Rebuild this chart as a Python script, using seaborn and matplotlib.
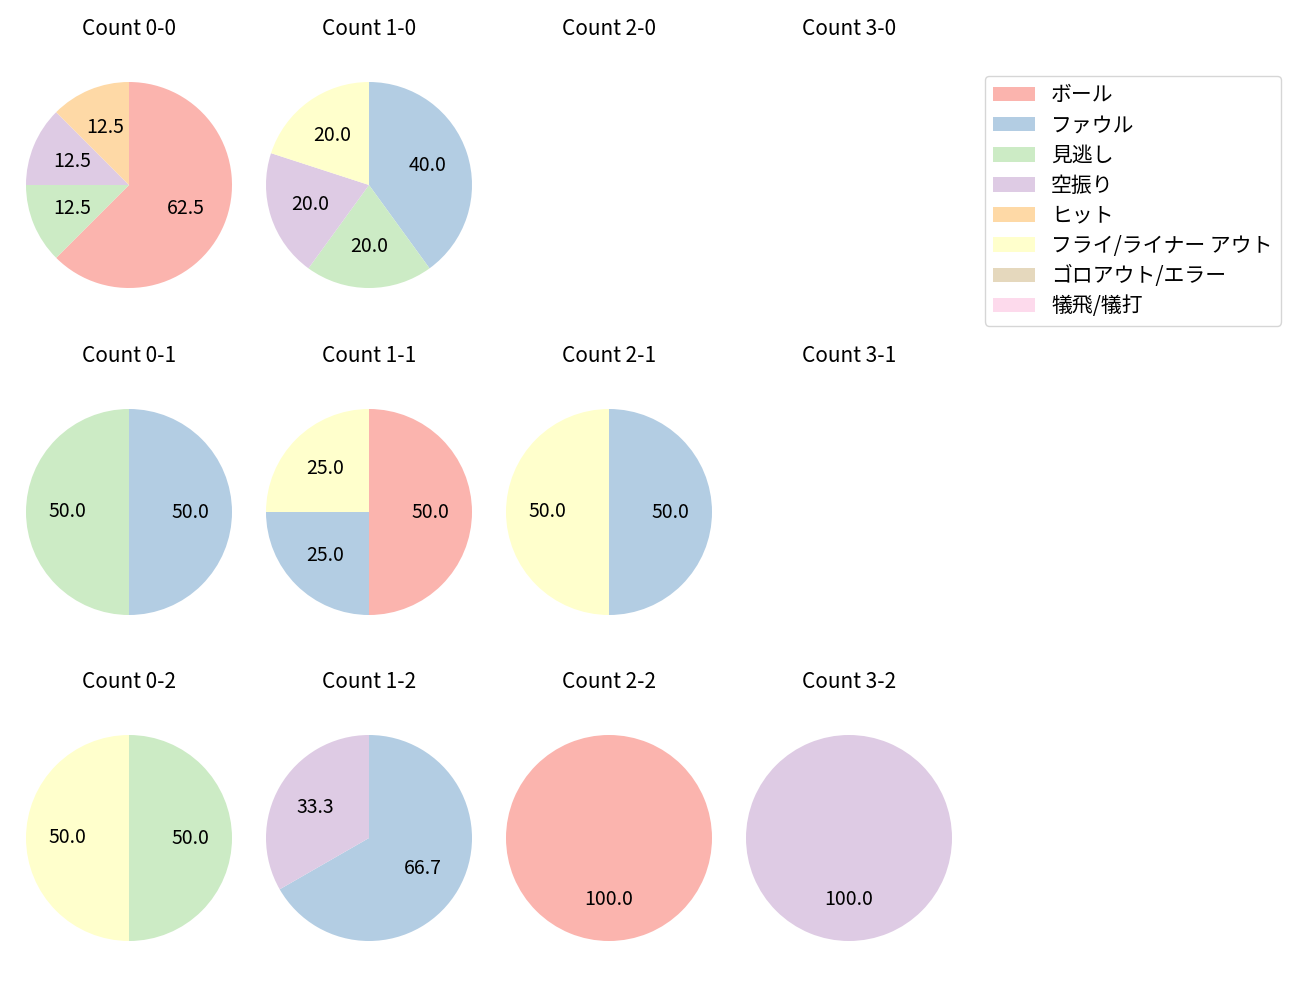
import matplotlib
matplotlib.use("Agg")
import matplotlib.pyplot as plt
import seaborn as sns
from matplotlib.patches import Patch

sns.set_theme(style="white")
plt.rcParams['font.family'] = ['Noto Sans CJK JP', 'DejaVu Sans']
plt.rcParams['text.color'] = 'black'

categories = ["ボール", "ファウル", "見逃し", "空振り", "ヒット",
              "フライ/ライナー アウト", "ゴロアウト/エラー", "犠飛/犠打"]

count_labels = ["0-0", "1-0", "2-0", "3-0",
                "0-1", "1-1", "2-1", "3-1",
                "0-2", "1-2", "2-2", "3-2"]

c_0_0 = [62.5, 0, 12.5, 12.5, 12.5, 0, 0, 0]
c_1_0 = [0, 40.0, 20.0, 20.0, 0, 20.0, 0, 0]
c_2_0 = [0, 0, 0, 0, 0, 0, 0, 0]
c_3_0 = [0, 0, 0, 0, 0, 0, 0, 0]
c_0_1 = [0, 50.0, 50.0, 0, 0, 0, 0, 0]
c_1_1 = [50.0, 25.0, 0, 0, 0, 25.0, 0, 0]
c_2_1 = [0, 50.0, 0, 0, 0, 50.0, 0, 0]
c_3_1 = [0, 0, 0, 0, 0, 0, 0, 0]
c_0_2 = [0, 0, 50.0, 0, 0, 50.0, 0, 0]
c_1_2 = [0, 66.7, 0, 33.3, 0, 0, 0, 0]
c_2_2 = [100.0, 0, 0, 0, 0, 0, 0, 0]
c_3_2 = [0, 0, 0, 100.0, 0, 0, 0, 0]

all_counts = [c_0_0, c_1_0, c_2_0, c_3_0,
              c_0_1, c_1_1, c_2_1, c_3_1,
              c_0_2, c_1_2, c_2_2, c_3_2]

colors = sns.color_palette("Pastel1", 8)

W, H = 1300, 1000
fig = plt.figure(figsize=(13, 10), dpi=100)

cx = [129, 369, 609, 849]
cy = [185, 512, 838]
r = 103
size = r * 2.5

for i, (lab, vals) in enumerate(zip(count_labels, all_counts)):
    row, col = divmod(i, 4)
    x0 = (cx[col] - size / 2) / W
    y0 = 1 - (cy[row] + size / 2) / H
    ax = fig.add_axes([x0, y0, size / W, size / H])
    ax.set_title(f"Count {lab}", fontsize=15, pad=15, color="black")
    idx = [k for k, v in enumerate(vals) if v > 0]
    if idx:
        ax.pie([vals[k] for k in idx], colors=[colors[k] for k in idx],
               autopct="%.1f", startangle=90, counterclock=False,
               wedgeprops={"linewidth": 0},
               textprops={"fontsize": 14, "color": "black"})
        ax.set_xlim(-1.25, 1.25)
        ax.set_ylim(-1.25, 1.25)
    else:
        ax.set_xlim(-1.25, 1.25)
        ax.set_ylim(-1.25, 1.25)
        ax.axis("off")

handles = [Patch(facecolor=colors[k], label=categories[k], linewidth=0)
           for k in range(8)]
fig.legend(handles=handles, loc="upper right",
           bbox_to_anchor=(1281 / W, 1 - 76 / H), borderaxespad=0,
           fontsize=15, labelspacing=0.39, frameon=True, edgecolor="#cccccc")

fig.savefig("out.png", dpi=100)
